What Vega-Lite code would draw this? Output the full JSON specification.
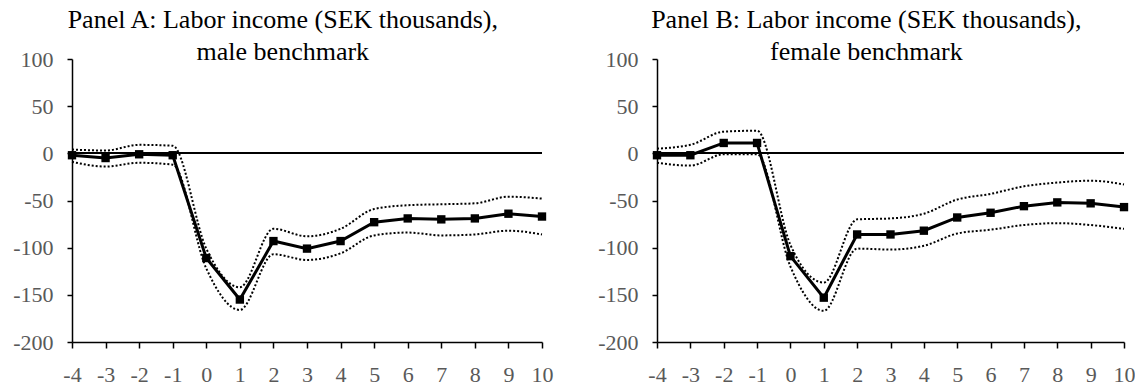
{
  "$schema": "https://vega.github.io/schema/vega-lite/v6.json",
  "padding": {"left": 12, "top": 7, "right": 0, "bottom": 0},
  "background": "white",
  "datasets": {
    "est": [
      {"panel": "A", "t": -4, "est": -2, "lo": -9, "hi": 4},
      {"panel": "A", "t": -3, "est": -5, "lo": -14, "hi": 3},
      {"panel": "A", "t": -2, "est": -1, "lo": -10, "hi": 9},
      {"panel": "A", "t": -1, "est": -2, "lo": -12, "hi": 8},
      {"panel": "A", "t": 0, "est": -111, "lo": -122, "hi": -101},
      {"panel": "A", "t": 1, "est": -155, "lo": -166, "hi": -142},
      {"panel": "A", "t": 2, "est": -93, "lo": -107, "hi": -80},
      {"panel": "A", "t": 3, "est": -101, "lo": -113, "hi": -88},
      {"panel": "A", "t": 4, "est": -93, "lo": -106, "hi": -80},
      {"panel": "A", "t": 5, "est": -73, "lo": -87, "hi": -59},
      {"panel": "A", "t": 6, "est": -69, "lo": -84, "hi": -55},
      {"panel": "A", "t": 7, "est": -70, "lo": -87, "hi": -54},
      {"panel": "A", "t": 8, "est": -69, "lo": -86, "hi": -53},
      {"panel": "A", "t": 9, "est": -64, "lo": -82, "hi": -46},
      {"panel": "A", "t": 10, "est": -67, "lo": -86, "hi": -48},
      {"panel": "B", "t": -4, "est": -2, "lo": -10, "hi": 5},
      {"panel": "B", "t": -3, "est": -2, "lo": -13, "hi": 9},
      {"panel": "B", "t": -2, "est": 11, "lo": -1, "hi": 23},
      {"panel": "B", "t": -1, "est": 11, "lo": -1, "hi": 24},
      {"panel": "B", "t": 0, "est": -109, "lo": -120, "hi": -97},
      {"panel": "B", "t": 1, "est": -153, "lo": -167, "hi": -137},
      {"panel": "B", "t": 2, "est": -86, "lo": -101, "hi": -70},
      {"panel": "B", "t": 3, "est": -86, "lo": -102, "hi": -69},
      {"panel": "B", "t": 4, "est": -82, "lo": -98, "hi": -64},
      {"panel": "B", "t": 5, "est": -68, "lo": -85, "hi": -49},
      {"panel": "B", "t": 6, "est": -63, "lo": -81, "hi": -43},
      {"panel": "B", "t": 7, "est": -56, "lo": -76, "hi": -35},
      {"panel": "B", "t": 8, "est": -52, "lo": -74, "hi": -31},
      {"panel": "B", "t": 9, "est": -53, "lo": -76, "hi": -29},
      {"panel": "B", "t": 10, "est": -57, "lo": -80, "hi": -33}
    ]
  },
  "config": {
    "view": {"stroke": null},
    "font": "Liberation Serif, Times New Roman, DejaVu Serif, serif",
    "axis": {
      "grid": false,
      "domainColor": "black",
      "domainWidth": 1.5,
      "tickColor": "black",
      "tickWidth": 1.5,
      "tickSize": 5,
      "labelColor": "#595959",
      "labelFont": "Liberation Serif, Times New Roman, DejaVu Serif, serif",
      "labelFontSize": 22,
      "labelOverlap": false,
      "labelFlush": false,
      "labelExpr": "'' + datum.value",
      "title": null
    },
    "axisX": {"labelPadding": 16, "tickSize": 6},
    "axisY": {"labelPadding": 14},
    "title": {
      "font": "Liberation Serif, Times New Roman, DejaVu Serif, serif",
      "fontSize": 26,
      "fontWeight": "normal",
      "color": "black",
      "anchor": "middle",
      "frame": "bounds",
      "lineHeight": 32,
      "offset": -17
    }
  },
  "hconcat": [
    {
      "title": {"text": ["Panel A: Labor income (SEK thousands),", "male benchmark"]},
      "width": 470,
      "height": 283,
      "data": {"name": "est"},
      "transform": [{"filter": "datum.panel === 'A'"}],
      "encoding": {
        "x": {"field": "t", "type": "quantitative", "scale": {"domain": [-4, 10], "nice": false, "zero": false},
              "axis": {"values": [-4,-3,-2,-1,0,1,2,3,4,5,6,7,8,9,10]}},
        "y": {"type": "quantitative", "scale": {"domain": [-200, 100], "nice": false},
              "axis": {"values": [-200,-150,-100,-50,0,50,100]}}
      },
      "layer": [
        {"mark": {"type": "rule", "color": "black", "strokeWidth": 1.5}, "encoding": {"x": null, "y": {"datum": 0, "type": "quantitative"}}},
        {"mark": {"type": "line", "color": "black", "strokeWidth": 2, "strokeDash": [2, 2], "interpolate": "monotone"}, "encoding": {"y": {"field": "hi"}}},
        {"mark": {"type": "line", "color": "black", "strokeWidth": 2, "strokeDash": [2, 2], "interpolate": "monotone"}, "encoding": {"y": {"field": "lo"}}},
        {"mark": {"type": "line", "color": "black", "strokeWidth": 3, "point": {"shape": "square", "filled": true, "size": 70, "color": "black", "opacity": 1}}, "encoding": {"y": {"field": "est"}}}
      ]
    },
    {
      "title": {"text": ["Panel B: Labor income (SEK thousands),", "female benchmark"]},
      "width": 467,
      "height": 283,
      "data": {"name": "est"},
      "transform": [{"filter": "datum.panel === 'B'"}],
      "encoding": {
        "x": {"field": "t", "type": "quantitative", "scale": {"domain": [-4, 10], "nice": false, "zero": false},
              "axis": {"values": [-4,-3,-2,-1,0,1,2,3,4,5,6,7,8,9,10]}},
        "y": {"type": "quantitative", "scale": {"domain": [-200, 100], "nice": false},
              "axis": {"values": [-200,-150,-100,-50,0,50,100]}}
      },
      "layer": [
        {"mark": {"type": "rule", "color": "black", "strokeWidth": 1.5}, "encoding": {"x": null, "y": {"datum": 0, "type": "quantitative"}}},
        {"mark": {"type": "line", "color": "black", "strokeWidth": 2, "strokeDash": [2, 2], "interpolate": "monotone"}, "encoding": {"y": {"field": "hi"}}},
        {"mark": {"type": "line", "color": "black", "strokeWidth": 2, "strokeDash": [2, 2], "interpolate": "monotone"}, "encoding": {"y": {"field": "lo"}}},
        {"mark": {"type": "line", "color": "black", "strokeWidth": 3, "point": {"shape": "square", "filled": true, "size": 70, "color": "black", "opacity": 1}}, "encoding": {"y": {"field": "est"}}}
      ]
    }
  ],
  "spacing": 44
}
